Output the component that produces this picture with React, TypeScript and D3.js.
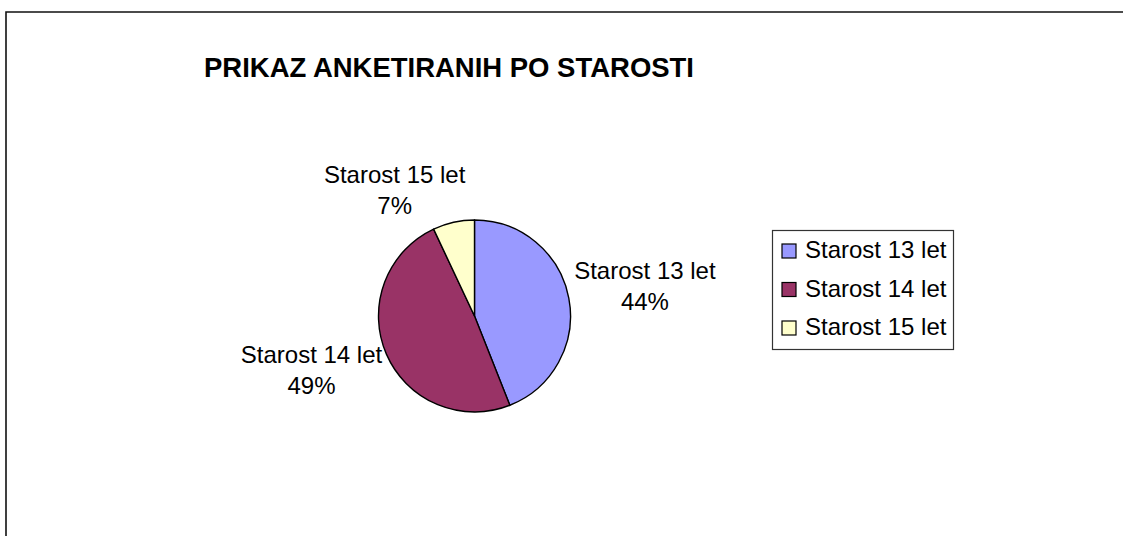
import React, { useEffect, useRef } from "react";
import * as d3 from "d3";

const categories = ["Starost 13 let", "Starost 14 let", "Starost 15 let"];
const values = [44, 49, 7];
const colors = ["#9999FF", "#993366", "#FFFFCC"];
const title = "PRIKAZ ANKETIRANIH PO STAROSTI";

export default function App() {
  const ref = useRef<SVGSVGElement | null>(null);
  useEffect(() => {
    const svg = d3.select(ref.current);
    svg.selectAll("*").remove();
    const W = 1123, H = 536;
    svg.append("rect").attr("width", W).attr("height", H).attr("fill", "#fff");
    // frame (top and left visible)
    svg.append("path").attr("d", `M6,${H} L6,12 L${W},12`).attr("fill", "none").attr("stroke", "#111").attr("stroke-width", 1.6);

    svg.append("text").attr("x", 204).attr("y", 77)
      .attr("font-family", "Liberation Sans, Arial, sans-serif").attr("font-weight", "bold")
      .attr("font-size", 28).attr("textLength", 490).attr("lengthAdjust", "spacingAndGlyphs")
      .text(title);

    const cx = 474.5, cy = 316, r = 96;
    const pie = d3.pie<number>().sort(null).value(d => d)(values);
    const arc = d3.arc<d3.PieArcDatum<number>>().innerRadius(0).outerRadius(r);
    const total = d3.sum(values);
    const g = svg.append("g").attr("transform", `translate(${cx},${cy})`);
    g.selectAll("path").data(pie).join("path")
      .attr("d", arc).attr("fill", (_, i) => colors[i])
      .attr("stroke", "#000").attr("stroke-width", 1.4).attr("stroke-linejoin", "round");

    // data labels
    const labelArc = d3.arc<d3.PieArcDatum<number>>().innerRadius(r + 50).outerRadius(r + 50);
    const offsets = [[27, -3], [-29, -4], [-48, 16]];
    pie.forEach((d, i) => {
      const [lx, ly] = labelArc.centroid(d);
      const t = svg.append("text").attr("text-anchor", "middle")
        .attr("font-family", "Liberation Sans, Arial, sans-serif").attr("font-size", 24)
        .attr("fill", "#000");
      const x = cx + lx + offsets[i][0];
      const y = cy + ly + offsets[i][1];
      t.append("tspan").attr("x", x).attr("y", y - 7).text(categories[i]);
      t.append("tspan").attr("x", x).attr("y", y + 24.5).text(`${Math.round((values[i] / total) * 100)}%`);
    });

    // legend
    const lg = svg.append("g");
    lg.append("rect").attr("x", 772.5).attr("y", 230.5).attr("width", 181).attr("height", 119)
      .attr("fill", "#fff").attr("stroke", "#333").attr("stroke-width", 1.2);
    categories.forEach((c, i) => {
      const by = 258 + i * 38.5;
      lg.append("rect").attr("x", 782).attr("y", by - 14).attr("width", 14).attr("height", 14)
        .attr("fill", colors[i]).attr("stroke", "#000").attr("stroke-width", 1.2);
      lg.append("text").attr("x", 805).attr("y", by)
        .attr("font-family", "Liberation Sans, Arial, sans-serif").attr("font-size", 24)
        .text(c);
    });
  }, []);
  return (
    <div style={{ position: "absolute", left: 0, top: 0 }}>
      <svg ref={ref} width={1123} height={536} style={{ display: "block" }} />
    </div>
  );
}
